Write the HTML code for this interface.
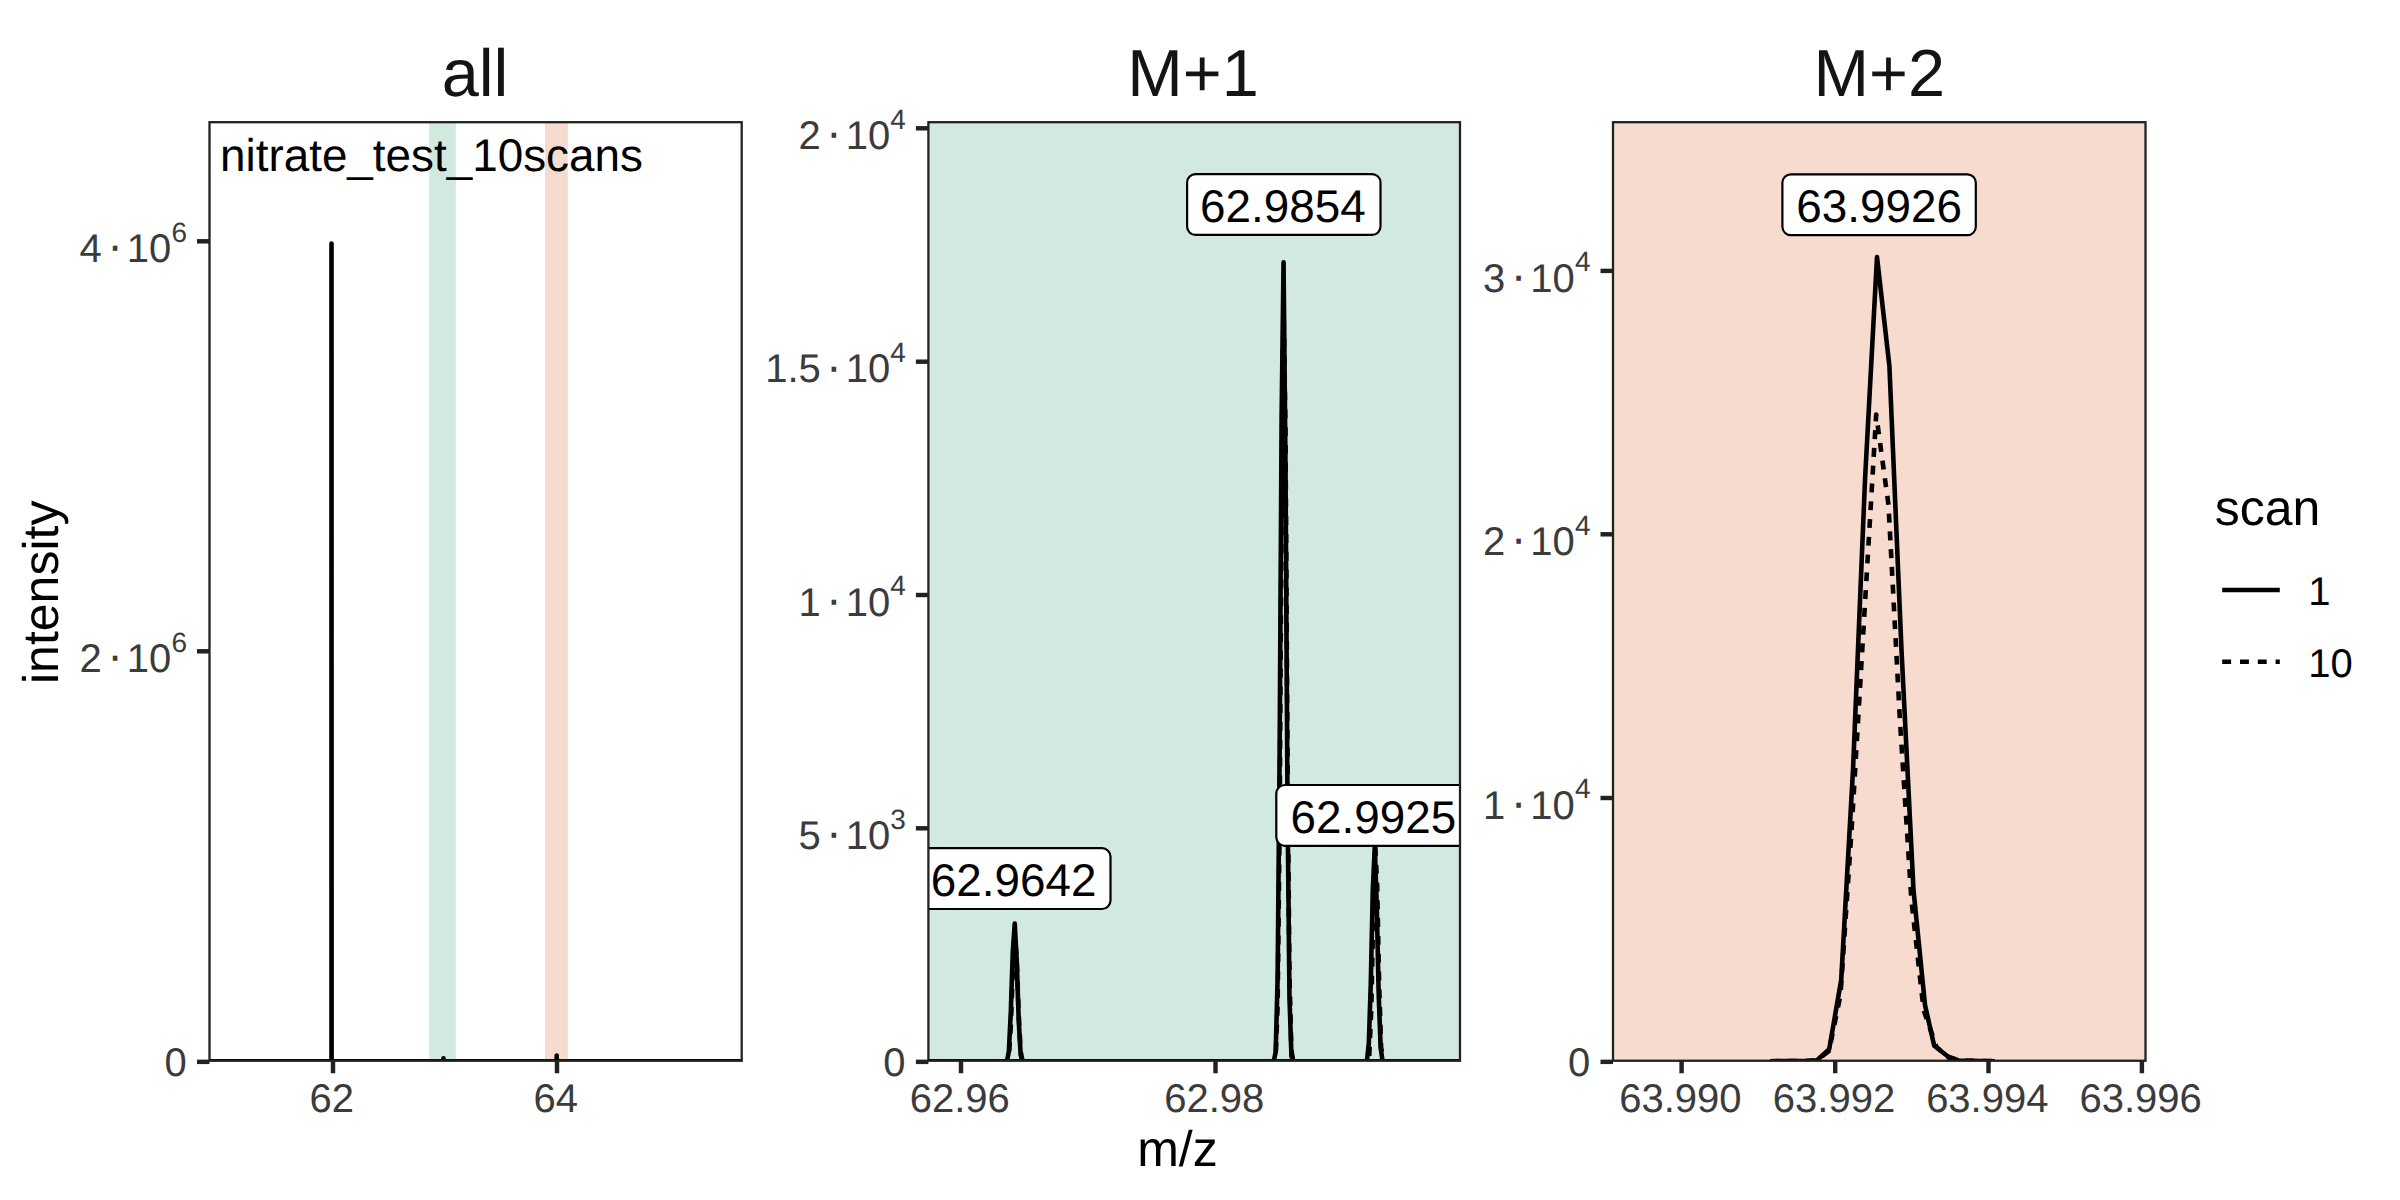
<!DOCTYPE html>
<html lang="en"><head><meta charset="utf-8"><title>nitrate_test_10scans spectra</title>
<style>html,body{margin:0;padding:0;background:#FFFFFF;width:2400px;height:1200px;overflow:hidden;}svg{display:block;}</style>
</head><body>
<svg width="2400" height="1200" viewBox="0 0 2400 1200" text-rendering="geometricPrecision">
<rect x="0" y="0" width="2400" height="1200" fill="#FFFFFF"/>
<defs>
<clipPath id="cp0"><rect x="209.5" y="122.2" width="532.2" height="938.55"/></clipPath>
<clipPath id="cp1"><rect x="928.4" y="122.2" width="531.6" height="938.55"/></clipPath>
<clipPath id="cp2"><rect x="1613" y="122.2" width="532.5" height="938.55"/></clipPath>
</defs>
<rect x="209.5" y="122.2" width="532.2" height="938.55" fill="#FFFFFF"/>
<rect x="928.4" y="122.2" width="531.6" height="938.55" fill="#D2E9DF"/>
<rect x="1613" y="122.2" width="532.5" height="938.55" fill="#F6DBCE"/>
<g clip-path="url(#cp0)">
<rect x="429.2" y="122.2" width="26.6" height="938.55" fill="#D2E9DF"/>
<rect x="545" y="122.2" width="22.8" height="938.55" fill="#F6DBCE"/>
<polyline points="209.5,1061.4 331.5,1061.4 331.5,243.6 331.6,1061.4 443.5,1061.4 443.5,1058.4 443.6,1061.4 556.7,1061.4 556.7,1055.6 556.8,1061.4 741.7,1061.4" fill="none" stroke="#000000" stroke-width="4.6" stroke-linejoin="round" stroke-linecap="butt"/>
<text x="220.0" y="170.8" font-size="45.83" fill="#000000" font-family='"Liberation Sans", sans-serif'>nitrate_test_10scans</text>
</g>
<g clip-path="url(#cp1)">
<polyline points="928.4,1061.4 1000.96,1061.4 1002.93,1061.4 1004.9,1061.4 1006.87,1061.4 1008.84,1051.64 1010.81,1011.86 1012.78,951.71 1014.75,923.52 1016.72,960.43 1018.69,1019.95 1020.66,1055 1022.63,1061.4 1024.6,1061.4 1026.57,1061.4 1028.54,1061.4 1460,1061.4" fill="none" stroke="#000000" stroke-width="4.6" stroke-linejoin="round" stroke-linecap="butt"/>
<polyline points="928.4,1061.4 1269.76,1061.4 1271.73,1061.4 1273.7,1061.4 1275.67,1052 1277.64,977.59 1279.61,755.57 1281.58,419.76 1283.55,262.37 1285.52,468.46 1287.49,800.71 1289.46,996.38 1291.43,1056.16 1293.4,1061.4 1295.37,1061.4 1297.34,1061.4 1460,1061.4" fill="none" stroke="#000000" stroke-width="4.6" stroke-linejoin="round" stroke-linecap="butt"/>
<polyline points="928.4,1061.4 1360.96,1061.4 1362.93,1061.4 1364.9,1061.4 1366.87,1061.4 1368.84,1043.01 1370.81,982.2 1372.78,890.22 1374.75,847.12 1376.72,903.56 1378.69,994.56 1380.66,1048.16 1382.63,1061.4 1384.6,1061.4 1386.57,1061.4 1388.54,1061.4 1460,1061.4" fill="none" stroke="#000000" stroke-width="4.6" stroke-linejoin="round" stroke-linecap="butt"/>
<polyline points="928.4,1061.4 1000.91,1061.4 1002.88,1061.4 1004.85,1061.4 1006.82,1061.4 1008.79,1057.44 1010.76,1027.45 1012.73,973.64 1014.7,936.22 1016.67,957.72 1018.64,1012.66 1020.61,1051.25 1022.58,1061.4 1024.55,1061.4 1026.52,1061.4 1028.49,1061.4 1460,1061.4" fill="none" stroke="#000000" stroke-width="4.6" stroke-linejoin="round" stroke-linecap="butt" stroke-dasharray="8.9 8.9"/>
<polyline points="928.4,1061.4 1269.71,1061.4 1271.68,1061.4 1273.65,1061.4 1275.62,1058.3 1277.59,1007.46 1279.56,833.26 1281.53,520.59 1283.5,303.15 1285.47,428.07 1287.44,747.3 1289.41,971.53 1291.38,1050.29 1293.35,1061.4 1295.32,1061.4 1297.29,1061.4 1460,1061.4" fill="none" stroke="#000000" stroke-width="4.6" stroke-linejoin="round" stroke-linecap="butt" stroke-dasharray="8.9 8.9"/>
<polyline points="928.4,1061.4 1361.41,1061.4 1363.38,1061.4 1365.35,1061.4 1367.32,1061.4 1369.29,1055.38 1371.26,1009.75 1373.23,915.36 1375.2,844.57 1377.17,885.65 1379.14,984.95 1381.11,1046.71 1383.08,1061.4 1385.05,1061.4 1387.02,1061.4 1388.99,1061.4 1460,1061.4" fill="none" stroke="#000000" stroke-width="4.6" stroke-linejoin="round" stroke-linecap="butt" stroke-dasharray="8.9 8.9"/>
<rect x="917.1" y="848.2" width="193.4" height="60.8" rx="8.5" ry="8.5" fill="#FFFFFF" stroke="#000000" stroke-width="2.2"/><text x="1013.6" y="896.2" font-size="45.83" text-anchor="middle" fill="#000000" font-family='"Liberation Sans", sans-serif'>62.9642</text>
<rect x="1187.1" y="174.1" width="193.4" height="60.8" rx="8.5" ry="8.5" fill="#FFFFFF" stroke="#000000" stroke-width="2.2"/><text x="1282.9" y="222.1" font-size="45.83" text-anchor="middle" fill="#000000" font-family='"Liberation Sans", sans-serif'>62.9854</text>
<rect x="1276.3" y="785" width="193.4" height="60.8" rx="8.5" ry="8.5" fill="#FFFFFF" stroke="#000000" stroke-width="2.2"/><text x="1373.4" y="833" font-size="45.83" text-anchor="middle" fill="#000000" font-family='"Liberation Sans", sans-serif'>62.9925</text>
</g>
<g clip-path="url(#cp2)">
<polyline points="1770,1061.2 1805,1061 1817,1060.3 1829.2,1049.2 1841.2,980 1853,770 1865,480 1877,257 1889.4,366 1901.5,650 1913.5,890 1925,1005 1934.2,1045.8 1948.3,1056.7 1958.5,1060.5 1995,1061.2" fill="none" stroke="#000000" stroke-width="4.6" stroke-linejoin="round" stroke-linecap="butt"/>
<polyline points="1770,1061.2 1805,1061 1817,1060.4 1829,1051 1840.5,995 1852.2,820 1864.2,617 1876.2,414.5 1888.5,505 1899.9,720 1911.4,900 1923.6,1010 1936.5,1047 1948.5,1057.5 1960,1060.6 1995,1061.2" fill="none" stroke="#000000" stroke-width="4.6" stroke-linejoin="round" stroke-linecap="butt" stroke-dasharray="8.9 8.9"/>
<rect x="1782.4" y="174.35" width="193.4" height="60.8" rx="8.5" ry="8.5" fill="#FFFFFF" stroke="#000000" stroke-width="2.2"/><text x="1879.1" y="222.35" font-size="45.83" text-anchor="middle" fill="#000000" font-family='"Liberation Sans", sans-serif'>63.9926</text>
</g>
<rect x="209.5" y="122.2" width="532.2" height="938.55" fill="none" stroke="#222222" stroke-width="2.3"/>
<rect x="928.4" y="122.2" width="531.6" height="938.55" fill="none" stroke="#222222" stroke-width="2.3"/>
<rect x="1613" y="122.2" width="532.5" height="938.55" fill="none" stroke="#222222" stroke-width="2.3"/>
<text x="475" y="95.8" font-size="66.7" text-anchor="middle" fill="#141414" font-family='"Liberation Sans", sans-serif'>all</text>
<text x="1193" y="95.8" font-size="66.7" text-anchor="middle" fill="#141414" font-family='"Liberation Sans", sans-serif'>M+1</text>
<text x="1879.3" y="95.8" font-size="66.7" text-anchor="middle" fill="#141414" font-family='"Liberation Sans", sans-serif'>M+2</text>
<line x1="197" y1="241.3" x2="209.5" y2="241.3" stroke="#222222" stroke-width="4.45"/>
<g fill="#3B3B3B" font-family='"Liberation Sans", sans-serif'><text x="187" y="241.5" font-size="28" text-anchor="end">6</text><text x="171.35" y="261.9" font-size="40" text-anchor="end">10</text><text x="115" y="261.12" font-size="47" text-anchor="middle">·</text><text x="101.85" y="261.9" font-size="40" text-anchor="end">4</text></g>
<line x1="197" y1="651.3" x2="209.5" y2="651.3" stroke="#222222" stroke-width="4.45"/>
<g fill="#3B3B3B" font-family='"Liberation Sans", sans-serif'><text x="187" y="651.5" font-size="28" text-anchor="end">6</text><text x="171.35" y="671.9" font-size="40" text-anchor="end">10</text><text x="115" y="671.12" font-size="47" text-anchor="middle">·</text><text x="101.85" y="671.9" font-size="40" text-anchor="end">2</text></g>
<line x1="197" y1="1061.85" x2="209.5" y2="1061.85" stroke="#222222" stroke-width="4.45"/>
<text x="186.7" y="1076.25" font-size="40" text-anchor="end" fill="#3B3B3B" font-family='"Liberation Sans", sans-serif'>0</text>
<line x1="915.9" y1="128.3" x2="928.4" y2="128.3" stroke="#222222" stroke-width="4.45"/>
<g fill="#3B3B3B" font-family='"Liberation Sans", sans-serif'><text x="905.9" y="128.5" font-size="28" text-anchor="end">4</text><text x="890.25" y="148.9" font-size="40" text-anchor="end">10</text><text x="833.9" y="148.13" font-size="47" text-anchor="middle">·</text><text x="820.75" y="148.9" font-size="40" text-anchor="end">2</text></g>
<line x1="915.9" y1="361.7" x2="928.4" y2="361.7" stroke="#222222" stroke-width="4.45"/>
<g fill="#3B3B3B" font-family='"Liberation Sans", sans-serif'><text x="905.9" y="361.9" font-size="28" text-anchor="end">4</text><text x="890.25" y="382.3" font-size="40" text-anchor="end">10</text><text x="833.9" y="381.52" font-size="47" text-anchor="middle">·</text><text x="820.75" y="382.3" font-size="40" text-anchor="end">1.5</text></g>
<line x1="915.9" y1="595" x2="928.4" y2="595" stroke="#222222" stroke-width="4.45"/>
<g fill="#3B3B3B" font-family='"Liberation Sans", sans-serif'><text x="905.9" y="595.2" font-size="28" text-anchor="end">4</text><text x="890.25" y="615.6" font-size="40" text-anchor="end">10</text><text x="833.9" y="614.82" font-size="47" text-anchor="middle">·</text><text x="820.75" y="615.6" font-size="40" text-anchor="end">1</text></g>
<line x1="915.9" y1="828.3" x2="928.4" y2="828.3" stroke="#222222" stroke-width="4.45"/>
<g fill="#3B3B3B" font-family='"Liberation Sans", sans-serif'><text x="905.9" y="828.5" font-size="28" text-anchor="end">3</text><text x="890.25" y="848.9" font-size="40" text-anchor="end">10</text><text x="833.9" y="848.12" font-size="47" text-anchor="middle">·</text><text x="820.75" y="848.9" font-size="40" text-anchor="end">5</text></g>
<line x1="915.9" y1="1061.85" x2="928.4" y2="1061.85" stroke="#222222" stroke-width="4.45"/>
<text x="905.6" y="1076.25" font-size="40" text-anchor="end" fill="#3B3B3B" font-family='"Liberation Sans", sans-serif'>0</text>
<line x1="1600.5" y1="270.9" x2="1613" y2="270.9" stroke="#222222" stroke-width="4.45"/>
<g fill="#3B3B3B" font-family='"Liberation Sans", sans-serif'><text x="1590.5" y="271.1" font-size="28" text-anchor="end">4</text><text x="1574.85" y="291.5" font-size="40" text-anchor="end">10</text><text x="1518.5" y="290.72" font-size="47" text-anchor="middle">·</text><text x="1505.35" y="291.5" font-size="40" text-anchor="end">3</text></g>
<line x1="1600.5" y1="534.3" x2="1613" y2="534.3" stroke="#222222" stroke-width="4.45"/>
<g fill="#3B3B3B" font-family='"Liberation Sans", sans-serif'><text x="1590.5" y="534.5" font-size="28" text-anchor="end">4</text><text x="1574.85" y="554.9" font-size="40" text-anchor="end">10</text><text x="1518.5" y="554.12" font-size="47" text-anchor="middle">·</text><text x="1505.35" y="554.9" font-size="40" text-anchor="end">2</text></g>
<line x1="1600.5" y1="798" x2="1613" y2="798" stroke="#222222" stroke-width="4.45"/>
<g fill="#3B3B3B" font-family='"Liberation Sans", sans-serif'><text x="1590.5" y="798.2" font-size="28" text-anchor="end">4</text><text x="1574.85" y="818.6" font-size="40" text-anchor="end">10</text><text x="1518.5" y="817.82" font-size="47" text-anchor="middle">·</text><text x="1505.35" y="818.6" font-size="40" text-anchor="end">1</text></g>
<line x1="1600.5" y1="1061.85" x2="1613" y2="1061.85" stroke="#222222" stroke-width="4.45"/>
<text x="1590.2" y="1076.25" font-size="40" text-anchor="end" fill="#3B3B3B" font-family='"Liberation Sans", sans-serif'>0</text>
<line x1="333" y1="1060.75" x2="333" y2="1073.25" stroke="#222222" stroke-width="4.45"/>
<text x="331.8" y="1112" font-size="40" text-anchor="middle" fill="#3B3B3B" font-family='"Liberation Sans", sans-serif'>62</text>
<line x1="557" y1="1060.75" x2="557" y2="1073.25" stroke="#222222" stroke-width="4.45"/>
<text x="555.8" y="1112" font-size="40" text-anchor="middle" fill="#3B3B3B" font-family='"Liberation Sans", sans-serif'>64</text>
<line x1="961" y1="1060.75" x2="961" y2="1073.25" stroke="#222222" stroke-width="4.45"/>
<text x="959.8" y="1112" font-size="40" text-anchor="middle" fill="#3B3B3B" font-family='"Liberation Sans", sans-serif'>62.96</text>
<line x1="1215.5" y1="1060.75" x2="1215.5" y2="1073.25" stroke="#222222" stroke-width="4.45"/>
<text x="1214.3" y="1112" font-size="40" text-anchor="middle" fill="#3B3B3B" font-family='"Liberation Sans", sans-serif'>62.98</text>
<line x1="1681.6" y1="1060.75" x2="1681.6" y2="1073.25" stroke="#222222" stroke-width="4.45"/>
<text x="1680.4" y="1112" font-size="40" text-anchor="middle" fill="#3B3B3B" font-family='"Liberation Sans", sans-serif'>63.990</text>
<line x1="1835.2" y1="1060.75" x2="1835.2" y2="1073.25" stroke="#222222" stroke-width="4.45"/>
<text x="1834" y="1112" font-size="40" text-anchor="middle" fill="#3B3B3B" font-family='"Liberation Sans", sans-serif'>63.992</text>
<line x1="1988.5" y1="1060.75" x2="1988.5" y2="1073.25" stroke="#222222" stroke-width="4.45"/>
<text x="1987.3" y="1112" font-size="40" text-anchor="middle" fill="#3B3B3B" font-family='"Liberation Sans", sans-serif'>63.994</text>
<line x1="2141.9" y1="1060.75" x2="2141.9" y2="1073.25" stroke="#222222" stroke-width="4.45"/>
<text x="2140.7" y="1112" font-size="40" text-anchor="middle" fill="#3B3B3B" font-family='"Liberation Sans", sans-serif'>63.996</text>
<text x="1177.5" y="1166.3" font-size="50" text-anchor="middle" fill="#000000" font-family='"Liberation Sans", sans-serif'>m/z</text>
<text transform="translate(58,592.3) rotate(-90)" font-size="50" text-anchor="middle" fill="#000000" font-family='"Liberation Sans", sans-serif'>intensity</text>
<text x="2214.8" y="525.4" font-size="50" fill="#000000" font-family='"Liberation Sans", sans-serif'>scan</text>
<line x1="2222.2" y1="590.0" x2="2279.8" y2="590.0" stroke="#000000" stroke-width="4.6"/>
<line x1="2222.2" y1="661.8" x2="2279.8" y2="661.8" stroke="#000000" stroke-width="4.6" stroke-dasharray="8.9 8.9"/>
<text x="2308.3" y="604.7" font-size="40" fill="#000000" font-family='"Liberation Sans", sans-serif'>1</text>
<text x="2308.3" y="676.6" font-size="40" fill="#000000" font-family='"Liberation Sans", sans-serif'>10</text>
</svg>
</body></html>
